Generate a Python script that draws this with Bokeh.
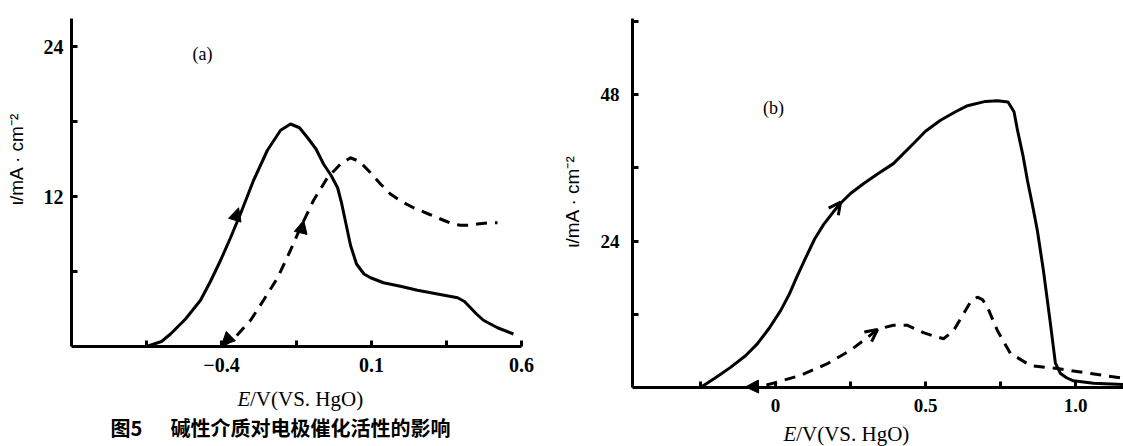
import math
from bokeh.plotting import figure
from bokeh.layouts import row
from bokeh.models import FixedTicker, Label, Arrow, NormalHead, OpenHead, Range1d
from bokeh.embed import file_html
from bokeh.resources import INLINE

# ---------------- data ----------------
# panel (a)
a_solid_x = [-0.65, -0.60, -0.57, -0.52, -0.47, -0.437, -0.403, -0.37, -0.337, -0.293, -0.247, -0.203,
             -0.17, -0.14, -0.113, -0.085, -0.06, -0.035, -0.013, 0.0, 0.015, 0.03, 0.05, 0.075, 0.097,
             0.14, 0.20, 0.253, 0.32, 0.387, 0.41, 0.43, 0.45, 0.473, 0.52, 0.573]
a_solid_y = [0, 0.4, 1.0, 2.2, 3.7, 5.2, 6.9, 8.7, 10.6, 13.3, 15.7, 17.3,
             17.8, 17.5, 16.7, 15.8, 14.6, 13.7, 12.7, 11.5, 9.8, 8.1, 6.6, 5.8, 5.5,
             5.1, 4.8, 4.5, 4.2, 3.9, 3.6, 3.1, 2.6, 2.1, 1.5, 1.0]
a_dash_x = [-0.40, -0.36, -0.303, -0.26, -0.213, -0.17, -0.137, -0.093, -0.047, -0.003, 0.03, 0.06,
            0.097, 0.13, 0.163, 0.20, 0.24, 0.29, 0.34, 0.37, 0.397, 0.425, 0.453, 0.49, 0.52]
a_dash_y = [0, 0.6, 2.1, 3.7, 5.5, 7.7, 9.5, 11.7, 13.5, 14.6, 15.1, 14.8,
            13.9, 13.0, 12.2, 11.6, 11.1, 10.6, 10.1, 9.8, 9.7, 9.7, 9.8, 9.9, 9.9]
a_xticks = [-0.65, -0.4, -0.15, 0.1, 0.35, 0.6]
a_xlabels = {-0.4: "\u22120.4", 0.1: "0.1", 0.6: "0.6"}
a_yticks = [6, 12, 18, 24]
a_ylabels = {12: "12", 24: "24"}
a_xlim = (-0.9, 0.6)      # drawn extent of the axes
a_ylim = (0, 26.24)

# panel (b)
b_solid_x = [-0.25, -0.20, -0.15, -0.10, -0.06, -0.02, 0.017, 0.045, 0.07, 0.10, 0.13, 0.16, 0.193,
             0.217, 0.25, 0.293, 0.34, 0.393, 0.46, 0.50, 0.55, 0.60, 0.64, 0.70, 0.74, 0.775, 0.795,
             0.807, 0.825, 0.84, 0.857, 0.873, 0.893, 0.915, 0.933, 0.95, 0.97, 0.993, 1.06, 1.16]
b_solid_y = [0, 1.6, 3.3, 5.2, 7.2, 9.8, 12.6, 15.2, 18.0, 21.2, 24.3, 26.7, 28.8,
             30.2, 31.8, 33.4, 35.0, 36.7, 40.0, 42.0, 43.8, 45.2, 46.2, 46.9, 47.0, 46.8, 45.2,
             42.1, 38.0, 33.9, 29.8, 25.7, 19.2, 11.0, 4.0, 2.3, 1.6, 1.1, 0.7, 0.5]
b_dash_x = [-0.093, -0.04, 0.0, 0.083, 0.173, 0.25, 0.327, 0.36, 0.393, 0.44, 0.493, 0.53, 0.56,
            0.593, 0.627, 0.65, 0.673, 0.69, 0.707, 0.74, 0.783, 0.85, 0.94, 1.05, 1.16]
b_dash_y = [0, 0.3, 0.8, 2.0, 3.9, 6.1, 9.0, 9.8, 10.2, 10.2, 9.0, 8.4, 8.0,
            9.3, 12.1, 14.0, 14.8, 14.4, 13.1, 9.3, 5.6, 3.6, 3.1, 2.3, 1.5]
b_xticks = [-0.25, 0.0, 0.25, 0.5, 0.75, 1.0]
b_xlabels = {0.0: "0", 0.5: "0.5", 1.0: "1.0"}
b_yticks = [12, 24, 36, 48, 60]
b_ylabels = {24: "24", 48: "48"}
b_xlim = (-0.477, 1.16)
b_ylim = (0, 60.5)

# direction arrows on the curves: (x_start, y_start, x_end, y_end, style)
a_arrows = [(-0.357, 10.0, -0.343, 11.1, "filled"),
            (-0.137, 9.0, -0.126, 10.1, "filled"),
            (-0.385, 0.45, -0.40, 0.1, "filled")]
b_arrows = [(0.19, 28.6, 0.217, 30.4, "open"),
            (0.30, 8.0, 0.34, 9.5, "open"),
            (-0.06, 0.15, -0.10, 0.1, "filled")]

# texts
y_title = "\u03b9/mA \u00b7 cm\u207b\u00b2"
x_title_e = "E"
x_title_rest = "/V(VS. HgO)"
caption_no = "图5"
caption_text = "碱性介质对电极催化活性的影响"

SERIF = "Liberation Serif"
SANS = "Liberation Sans"
CJK = "Noto Sans CJK SC"


def make_fig(width, xr, yr, xlim, ylim):
    p = figure(width=width, height=446, x_range=Range1d(*xr), y_range=Range1d(*yr),
               output_backend="svg", toolbar_location=None,
               min_border_left=0, min_border_right=0, min_border_top=0, min_border_bottom=0)
    p.xaxis.fixed_location = 0
    p.yaxis.fixed_location = xlim[0]
    p.xaxis.bounds = xlim
    p.yaxis.bounds = ylim
    p.xgrid.visible = False
    p.ygrid.visible = False
    p.outline_line_color = None
    return p


def style_axes(p, xticks, xlabels, yticks, ylabels, fs, sx, sy):
    p.xaxis.ticker = FixedTicker(ticks=xticks)
    p.yaxis.ticker = FixedTicker(ticks=yticks)
    p.xaxis.major_label_overrides = {k: xlabels.get(k, "") for k in xticks}
    p.yaxis.major_label_overrides = {k: ylabels.get(k, "") for k in yticks}
    for ax in (p.xaxis[0], p.yaxis[0]):
        ax.axis_line_width = 3
        ax.axis_line_color = "black"
        ax.major_tick_in = 6
        ax.major_tick_out = 0
        ax.major_tick_line_width = 3
        ax.minor_tick_line_color = None
        ax.major_label_text_font = SERIF
        ax.major_label_text_font_size = fs
        ax.major_label_text_font_style = "bold"
        ax.major_label_text_color = "black"
    p.xaxis.major_label_standoff = sx
    p.yaxis.major_label_standoff = sy


def add_arrows(p, arrows):
    for xs, ys, xe, ye, kind in arrows:
        if kind == "filled":
            head = NormalHead(size=13, fill_color="black", line_color="black", line_width=1)
        else:
            head = OpenHead(size=12, line_color="black", line_width=3)
        p.add_layout(Arrow(end=head, x_start=xs, y_start=ys, x_end=xe, y_end=ye,
                           line_alpha=0))


def txt(p, x, y, t, font, size, style="normal", align="left", angle=0.0):
    p.add_layout(Label(x=x, y=y, text=t, text_font=font, text_font_size=size,
                       text_font_style=style, text_align=align, text_baseline="middle",
                       text_color="black", angle=angle))


# ---------------- panel (a) ----------------
# 300 px per volt, 12.5 px per mA/cm^2
pa = make_fig(560, (-1.1367, 0.73), (-8.0, 27.68), a_xlim, a_ylim)
style_axes(pa, a_xticks, a_xlabels, a_yticks, a_ylabels, "20px", 11, 8)
pa.line(a_solid_x, a_solid_y, line_color="black", line_width=3)
pa.line(a_dash_x, a_dash_y, line_color="black", line_width=3, line_dash="11 8")
add_arrows(pa, a_arrows)
txt(pa, -0.463, 23.4, "(a)", SERIF, "18px", align="center")
txt(pa, -1.083, 15.0, y_title, SANS, "19px", align="center", angle=math.pi / 2)
txt(pa, -0.347, -4.16, x_title_e, SERIF, "21px", style="italic")
txt(pa, -0.305, -4.16, x_title_rest, SERIF, "21px")
txt(pa, -0.77, -6.5, caption_no, CJK, "20px", style="bold")
txt(pa, -0.57, -6.5, caption_text, CJK, "20px", style="bold")

# ---------------- panel (b) ----------------
# 300 px per volt, 6.1 px per mA/cm^2
pb = make_fig(563, (-0.7167, 1.16), (-9.67, 63.44), b_xlim, b_ylim)
style_axes(pb, b_xticks, b_xlabels, b_yticks, b_ylabels, "19px", 11, 13)
pb.line(b_solid_x, b_solid_y, line_color="black", line_width=3)
pb.line(b_dash_x, b_dash_y, line_color="black", line_width=3, line_dash="11 8")
add_arrows(pb, b_arrows)
txt(pb, -0.007, 45.9, "(b)", SERIF, "18px", align="center")
txt(pb, -0.677, 30.5, y_title, SANS, "19px", align="center", angle=math.pi / 2)
txt(pb, 0.027, -7.6, x_title_e, SERIF, "21px", style="italic")
txt(pb, 0.069, -7.6, x_title_rest, SERIF, "21px")

layout = row(pa, pb)
open("out.html", "w").write(file_html(layout, INLINE))
